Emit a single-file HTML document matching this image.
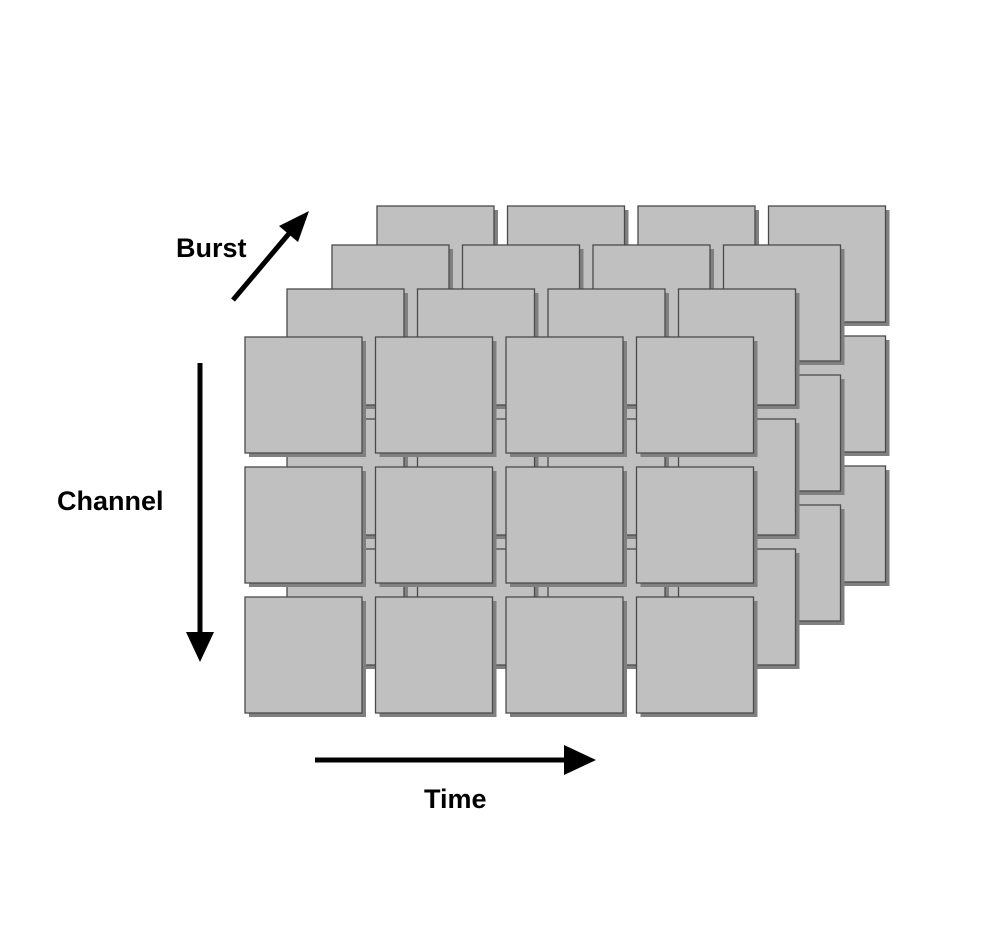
<!DOCTYPE html>
<html><head><meta charset="utf-8"><style>
html,body{margin:0;padding:0;background:#fff;}
svg{display:block;}
text{font-family:"Liberation Sans",sans-serif;font-weight:bold;font-size:27px;fill:#000;}
</style></head><body>
<svg id="d" width="997" height="947" viewBox="0 0 997 947">
<g id="tiles"></g>
<g>
<line x1="233" y1="300" x2="292" y2="230" stroke="#000" stroke-width="5"/>
<polygon points="309,211 279,226 298,242" fill="#000"/>
</g>
<g>
<line x1="200" y1="363" x2="200" y2="635" stroke="#000" stroke-width="5"/>
<polygon points="186,632 214,632 200,662" fill="#000"/>
</g>
<g>
<line x1="315" y1="760" x2="568" y2="760" stroke="#000" stroke-width="5"/>
<polygon points="564,745 564,775 596,760" fill="#000"/>
</g>
<text x="176" y="257">Burst</text>
<text x="57" y="510">Channel</text>
<text x="424" y="808">Time</text>
</svg>
<script>
const layers = [3,2,1,0];
const rows = [0,1,2];
const cols = [0,1,2,3];
const layerDx = [0,42,87,132];
const layerDy = [0,-48,-92,-131];
const g = document.getElementById('tiles');
const NS = 'http://www.w3.org/2000/svg';
layers.forEach(l => {
  rows.forEach(r => {
    cols.forEach(c => {
      const x = 245 + c*130.5 + layerDx[l];
      const y = 337 + r*130 + layerDy[l];
      const s = document.createElementNS(NS,'rect');
      s.setAttribute('x', x+4); s.setAttribute('y', y+4);
      s.setAttribute('width', 117); s.setAttribute('height', 116);
      s.setAttribute('fill', '#808080');
      
      
      g.appendChild(s);
      const t = document.createElementNS(NS,'rect');
      t.setAttribute('x', x); t.setAttribute('y', y);
      t.setAttribute('width', 117); t.setAttribute('height', 116);
      t.setAttribute('fill', '#c0c0c0');
      t.setAttribute('stroke', '#4a4a4a');
      t.setAttribute('stroke-width', '1.3');
      
      
      g.appendChild(t);
    });
  });
});
</script>
</body></html>
